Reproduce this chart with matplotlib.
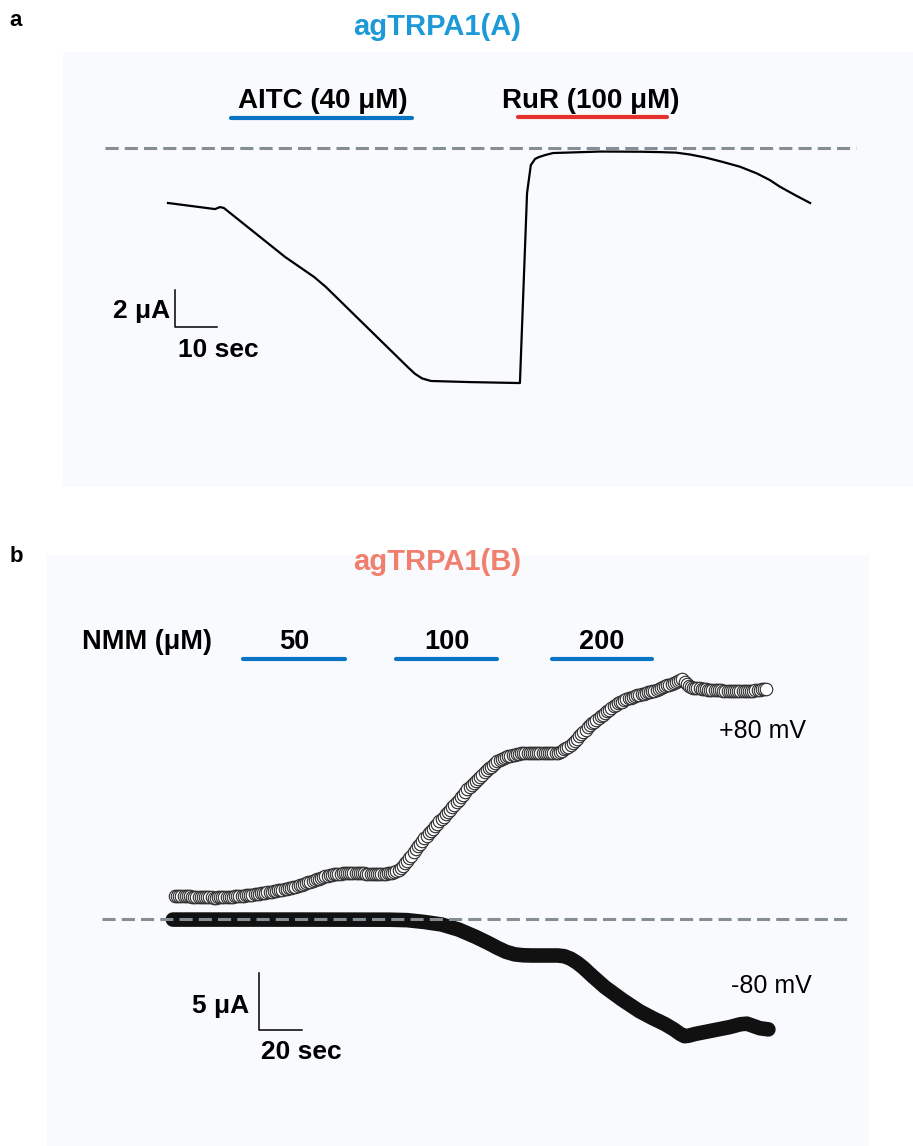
import numpy as np
import matplotlib
matplotlib.use("Agg")
import matplotlib.pyplot as plt

plt.rcParams['font.family'] = ['Liberation Sans', 'DejaVu Sans']

W, H = 913, 1146

# ---- panel a: agTRPA1(A), time (s) / current (uA)
ta = [0, 11.2, 12.4, 13.3, 27.9, 34.8, 37.6, 57.1, 58.8, 60.5, 62.6, 71.9, 83.3, 83.8,
      85.5, 86.4, 87.4, 88.3, 89.8, 91.7, 102.9, 112.6, 117.1, 121.0, 124.3, 127.9,
      131.9, 136.2, 140.2, 143.3, 145.7, 149.3, 152.9]
ia = [-2.97, -3.30, -3.19, -3.24, -5.89, -6.97, -7.51, -11.84, -12.2, -12.45, -12.59,
      -12.65, -12.70, -12.70, -2.43, -0.92, -0.59, -0.49, -0.38, -0.27, -0.19, -0.20,
      -0.22, -0.25, -0.35, -0.51, -0.74, -1.01, -1.37, -1.73, -2.09, -2.54, -2.97]
aitc_on = (15.0, 58.1)
rur_on = (83.3, 118.8)

# ---- panel b: agTRPA1(B), +80 mV sampled every 1 s
v80 = [
    2.04, 2.03, 2.02, 2.01, 2.00, 1.99, 1.98, 1.97, 1.95, 1.94,
    1.93, 1.92, 1.91, 1.90, 1.89, 1.89, 1.88, 1.87, 1.86, 1.86,
    1.87, 1.87, 1.88, 1.89, 1.90, 1.91, 1.93, 1.94, 1.96, 1.98,
    2.00, 2.02, 2.04, 2.06, 2.08, 2.10, 2.13, 2.15, 2.18, 2.20,
    2.23, 2.26, 2.29, 2.32, 2.35, 2.38, 2.42, 2.45, 2.49, 2.52,
    2.56, 2.59, 2.63, 2.67, 2.71, 2.76, 2.82, 2.88, 2.94, 3.00,
    3.06, 3.12, 3.19, 3.25, 3.32, 3.39, 3.46, 3.53, 3.60, 3.67,
    3.74, 3.78, 3.82, 3.86, 3.89, 3.92, 3.94, 3.96, 3.98, 4.00,
    4.01, 4.02, 4.02, 4.02, 4.01, 4.01, 4.00, 3.99, 3.98, 3.97,
    3.96, 3.96, 3.95, 3.95, 3.94, 3.94, 3.93, 3.94, 3.95, 3.98,
    4.02, 4.06, 4.10, 4.18, 4.30, 4.46, 4.65, 4.85, 5.05, 5.30,
    5.55, 5.82, 6.10, 6.35, 6.60, 6.83, 7.05, 7.28, 7.50, 7.70,
    7.90, 8.12, 8.35, 8.55, 8.75, 8.95, 9.15, 9.35, 9.55, 9.78,
    10.0, 10.22, 10.45, 10.68, 10.9, 11.12, 11.35, 11.52, 11.7, 11.88,
    12.05, 12.25, 12.45, 12.65, 12.85, 13.03, 13.2, 13.35, 13.5, 13.65,
    13.8, 13.93, 14.05, 14.13, 14.2, 14.25, 14.3, 14.35, 14.4, 14.44,
    14.48, 14.51, 14.53, 14.54, 14.55, 14.55, 14.55, 14.55, 14.54, 14.54,
    14.55, 14.55, 14.55, 14.55, 14.54, 14.54, 14.55, 14.56, 14.56, 14.65,
    14.75, 14.86, 14.98, 15.1, 15.22, 15.4, 15.6, 15.8, 16.0, 16.2,
    16.4, 16.6, 16.8, 16.98, 17.15, 17.3, 17.45, 17.6, 17.75, 17.9,
    18.05, 18.2, 18.35, 18.5, 18.65, 18.78, 18.9, 18.98, 19.05, 19.15,
    19.25, 19.33, 19.4, 19.48, 19.55, 19.6, 19.65, 19.7, 19.75, 19.8,
    19.85, 19.9, 19.95, 20.02, 20.1, 20.18, 20.25, 20.33, 20.4, 20.48,
    20.55, 20.62, 20.7, 20.78, 20.85, 20.92, 21.0, 20.8, 20.6, 20.45,
    20.3, 20.28, 20.25, 20.22, 20.2, 20.18, 20.15, 20.12, 20.1, 20.09,
    20.08, 20.06, 20.05, 20.04, 20.03, 20.01, 20.0, 19.99, 19.98, 19.97,
    19.96, 19.95, 19.95, 19.94, 19.94, 19.94, 19.95, 19.96, 19.98, 20.01,
    20.05, 20.07, 20.1, 20.13, 20.16, 20.18,
]
t80 = np.arange(len(v80)) * 1.0

# -80 mV
tm80 = [-1, 20, 60, 100, 108, 116, 124, 132, 140, 146, 150, 154, 158, 162, 166, 172, 178,
        181, 184, 187, 190, 194, 200, 208, 216, 222, 228, 232, 235, 237, 239, 242, 250,
        258, 263, 266, 269, 272, 276]
vm80 = [-0.07, -0.07, -0.07, -0.08, -0.12, -0.28, -0.5, -0.95, -1.6, -2.15, -2.55, -2.9,
        -3.12, -3.2, -3.22, -3.22, -3.22, -3.28, -3.5, -3.85, -4.3, -5.0, -6.0, -7.1, -8.1,
        -8.7, -9.25, -9.7, -10.1, -10.3, -10.25, -10.1, -9.8, -9.5, -9.25, -9.2, -9.4,
        -9.6, -9.7]
nmm_labels = ['50', '100', '200']
nmm_on = [(31.6, 79.1), (102.8, 149.8), (175.3, 221.9)]

bg = '#f9fafd'
blue = '#0a74c4'
red = '#e5312b'
dash_col = '#858e94'


def ftxt(px, py, s, **kw):
    fig.text(px / W, 1 - py / H, s, **kw)


def clean(ax):
    ax.set_facecolor(bg)
    for s in ax.spines.values():
        s.set_visible(False)
    ax.set_xticks([])
    ax.set_yticks([])


fig = plt.figure(figsize=(W / 100, H / 100), dpi=100)

# panel a
axa = fig.add_axes([63 / W, 1 - 487 / H, 850 / W, 435 / H])
clean(axa)
axa.set_xlim(-25, 177.4)
axa.set_ylim(-18.32, 5.19)
axa.plot(ta, ia, color='black', lw=1.6, zorder=3, solid_joinstyle='round')
axa.plot([-15, 163.8], [0, 0], color=dash_col, lw=2.2, dashes=(4.3, 2.0), zorder=4)
axa.plot(aitc_on, [1.62, 1.62], color=blue, lw=3, solid_capstyle='round')
axa.plot(rur_on, [1.68, 1.68], color=red, lw=3, solid_capstyle='round')
axa.plot([1.67, 1.67, 11.67], [-7.68, -9.68, -9.68], color='black', lw=1.1)

# panel b
axb = fig.add_axes([47 / W, 1 - 1146 / H, 822 / W, 591 / H])
clean(axb)
axb.set_xlim(-59.53, 322.79)
axb.set_ylim(-19.93, 31.91)
axb.plot(tm80, vm80, color='#111111', lw=10.5, solid_capstyle='round', solid_joinstyle='round', zorder=3)
axb.plot(t80, v80, ls='none', marker='o', ms=9, mfc='white', mec='#2a2a2a', mew=0.8, zorder=3)
axb.plot([-34, 314], [0, 0], color=dash_col, lw=2.2, dashes=(4.3, 2.0), zorder=4)
for on in nmm_on:
    axb.plot(on, [22.79, 22.79], color=blue, lw=3, solid_capstyle='round')
axb.plot([39.07, 39.07, 59.07], [-4.75, -9.75, -9.75], color='black', lw=1.1)

# text
ftxt(16, 21, 'a', fontsize=16, fontweight='bold', ha='center', va='center')
ftxt(16, 556, 'b', fontsize=16, fontweight='bold', ha='center', va='center')
ftxt(437, 27, 'agTRPA1(A)', fontsize=21, fontweight='bold', color='#1b9ad7', ha='center', va='center')
ftxt(437, 562, 'agTRPA1(B)', fontsize=21, fontweight='bold', color='#f07f6e', ha='center', va='center')
ftxt(323, 101, 'AITC (40 \u03bcM)', fontsize=20, fontweight='bold', ha='center', va='center')
ftxt(591, 101, 'RuR (100 \u03bcM)', fontsize=20, fontweight='bold', ha='center', va='center')
ftxt(170, 311, '2 \u03bcA', fontsize=19, fontweight='bold', ha='right', va='center')
ftxt(178, 350, '10 sec', fontsize=19, fontweight='bold', ha='left', va='center')
ftxt(82, 642, 'NMM (\u03bcM)', fontsize=19.5, fontweight='bold', ha='left', va='center')
for lab, on in zip(nmm_labels, nmm_on):
    cx = 175 + (on[0] + on[1]) / 2 * 2.15
    ftxt(cx, 642, lab, fontsize=19.5, fontweight='bold', ha='center', va='center')
ftxt(249, 1006, '5 \u03bcA', fontsize=19, fontweight='bold', ha='right', va='center')
ftxt(261, 1052, '20 sec', fontsize=19, fontweight='bold', ha='left', va='center')
ftxt(719, 731, '+80 mV', fontsize=18, ha='left', va='center')
ftxt(731, 986, '-80 mV', fontsize=18, ha='left', va='center')

fig.savefig('out.png', dpi=100)
